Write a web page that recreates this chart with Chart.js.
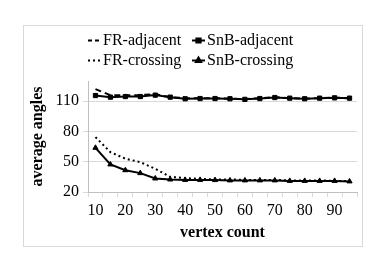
<!DOCTYPE html>
<html>
<head>
<meta charset="utf-8">
<script src="https://cdn.jsdelivr.net/npm/chart.js@4/dist/chart.umd.min.js"></script>
<style>
html,body{margin:0;padding:0;background:#fff;}
#wrap{position:absolute;left:0;top:0;width:390px;height:276px;}
</style>
</head>
<body>
<div id="wrap"><canvas id="c" width="390" height="276"></canvas></div>
<script>
const categories = ['10','15','20','25','30','35','40','45','50','55','60','65','70','75','80','85','90','95'];
const frAdjacent   = [122, 116, 116, 116, 117, 114, 113, 113, 113, 112.5, 112, 113, 114, 113, 112.5, 113, 113.5, 113];
const snbAdjacent  = [115.6, 114, 114.6, 114.6, 116, 114, 112.4, 112.6, 112.6, 112.4, 111.8, 112.6, 113.6, 113, 112.4, 113, 113.3, 113];
const frCrossing   = [74.4, 59.5, 53, 49.6, 43, 35, 33.8, 33, 32.5, 32.5, 32, 32, 32, 31.5, 31.5, 31.5, 31, 31];
const snbCrossing  = [63.8, 47.3, 41.6, 38.7, 33.4, 32.4, 32, 32, 31.8, 31.5, 31.5, 31.5, 31.5, 31, 31, 31, 31, 30.5];
const yTicks = [20, 50, 80, 110];
const seriesNames = ['FR-adjacent', 'SnB-adjacent', 'FR-crossing', 'SnB-crossing'];

const FONT = "'Liberation Serif', 'Times New Roman', serif";
Chart.defaults.font.family = FONT;
Chart.defaults.color = '#000';

const frame = {
  id: 'frame',
  beforeDraw(chart) {
    const ctx = chart.ctx;
    ctx.save();
    ctx.fillStyle = '#fff';
    ctx.fillRect(0, 0, chart.width, chart.height);
    ctx.strokeStyle = '#d9d9d9';
    ctx.lineWidth = 1;
    ctx.strokeRect(23.5, 25.5, 339, 221);
    ctx.restore();
  }
};

const legendPlugin = {
  id: 'customLegend',
  afterDraw(chart) {
    const ctx = chart.ctx;
    const cols = [88, 192];
    const rows = [40, 60];
    ctx.save();
    ctx.font = "16px " + FONT;
    ctx.fillStyle = '#000';
    ctx.textBaseline = 'middle';
    chart.data.datasets.forEach((ds, i) => {
      const x = cols[i % 2], y = rows[Math.floor(i / 2)];
      const w = 13;
      ctx.save();
      ctx.strokeStyle = ds.borderColor;
      ctx.lineWidth = ds.borderWidth;
      ctx.setLineDash(ds.legendDash || ds.borderDash || []);
      ctx.beginPath();
      ctx.moveTo(x, y + 0.5);
      ctx.lineTo(x + w, y + 0.5);
      ctx.stroke();
      ctx.setLineDash([]);
      if (ds.pointRadius > 0) {
        Chart.helpers.drawPoint(ctx, {pointStyle: ds.pointStyle, radius: ds.pointRadius, borderWidth: 1, rotation: 0}, x + w / 2, y + 0.5);
        ctx.fillStyle = '#000';
        ctx.fill();
      }
      ctx.restore();
      ctx.fillText(ds.label, x + w + 2, y + 1);
    });
    ctx.restore();
  }
};

new Chart(document.getElementById('c'), {
  type: 'line',
  data: {
    labels: categories,
    datasets: [
      {label: seriesNames[0], data: frAdjacent, borderColor: '#000', backgroundColor: '#000', borderWidth: 2, borderDash: [6, 4], legendDash: [4, 3], pointRadius: 0, tension: 0},
      {label: seriesNames[1], data: snbAdjacent, borderColor: '#000', backgroundColor: '#000', borderWidth: 2, pointStyle: 'rect', pointRadius: 3, pointBorderWidth: 1, tension: 0},
      {label: seriesNames[2], data: frCrossing, borderColor: '#000', backgroundColor: '#000', borderWidth: 2, borderDash: [2, 3], pointRadius: 0, tension: 0},
      {label: seriesNames[3], data: snbCrossing, borderColor: '#000', backgroundColor: '#000', borderWidth: 2, pointStyle: 'triangle', pointRadius: 3, pointBorderWidth: 1, tension: 0}
    ]
  },
  options: {
    responsive: false,
    animation: false,
    devicePixelRatio: 1,
    layout: {padding: {left: 0, right: 33, top: 81, bottom: 34}},
    plugins: {legend: {display: false}, tooltip: {enabled: false}},
    scales: {
      x: {
        type: 'category',
        offset: true,
        grid: {offset: true, drawOnChartArea: false, drawTicks: true, tickLength: 5, color: '#d9d9d9'},
        border: {color: '#bfbfbf'},
        ticks: {autoSkip: false, maxRotation: 0, padding: 4, font: {size: 16}, color: '#000',
          callback: (v, i) => (i % 2 === 0 ? categories[i] : '')},
        title: {display: true, text: 'vertex count', font: {size: 16, weight: 'bold'}, color: '#000', padding: {top: 0, bottom: 0}},
        afterFit: s => { s.height = 50; }
      },
      y: {
        min: 20, max: 130,
        grid: {color: '#d9d9d9', tickLength: 5},
        border: {color: '#bfbfbf'},
        ticks: {stepSize: 30, padding: 4, font: {size: 16}, color: '#000'},
        afterBuildTicks: s => { s.ticks = yTicks.map(v => ({value: v})); },
        title: {display: true, text: 'average angles', font: {size: 16, weight: 'bold'}, color: '#000', padding: {top: 28, bottom: 0}},
        afterFit: s => { s.width = 88; }
      }
    }
  },
  plugins: [frame, legendPlugin]
});
</script>
</body>
</html>
